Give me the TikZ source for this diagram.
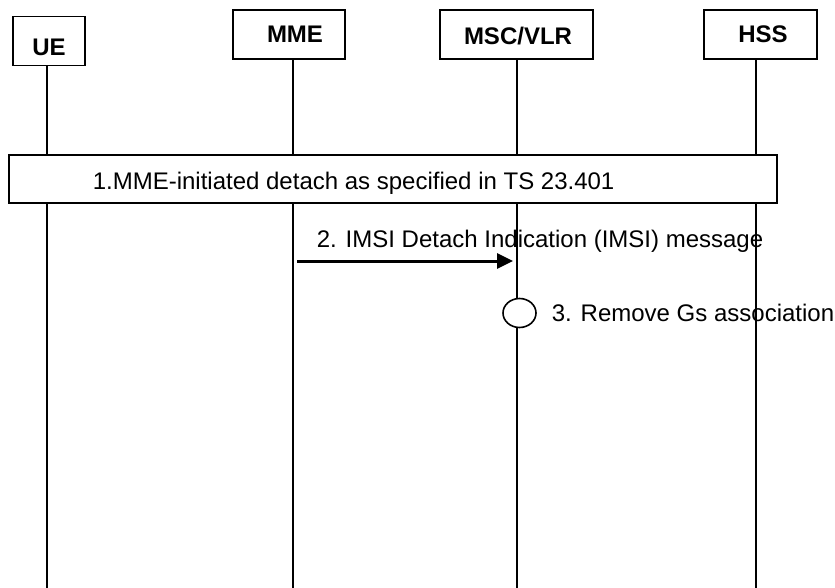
\documentclass[tikz,border=0pt]{standalone}
\usepackage{fontspec}
\setmainfont{Liberation Sans}
\usetikzlibrary{positioning,arrows.meta,shapes.geometric}

\begin{document}
\begin{tikzpicture}[x=1pt,y=-1pt,>={Triangle[length=16pt,width=15pt]},line width=1.6pt]
  \tikzstyle{entity}=[draw=black,line width=1.6pt,minimum height=49pt,inner sep=0pt,font=\fontsize{24}{29}\selectfont\bfseries]
  \tikzstyle{msg}=[inner sep=0pt,font=\fontsize{24}{29}\selectfont]
  \tikzstyle{lifeline}=[draw=black,line width=1.6pt]
  \useasboundingbox (0,0) rectangle (835,588);

  % Entities
  \node[entity,minimum width=72pt] (UE) at (49,41) {\raisebox{-15pt}[0pt][0pt]{UE}};
  \node[entity,minimum width=112pt] (MME) at (289,34.5) {\raisebox{-8.5pt}[0pt][0pt]{\hspace{12pt}MME}};
  \node[entity,minimum width=153pt] (MSC) at (516.5,34.5) {\raisebox{-10pt}[0pt][0pt]{\hspace{3pt}MSC/VLR}};
  \node[entity,minimum width=113pt] (HSS) at (760.5,34.5) {\raisebox{-8.5pt}[0pt][0pt]{\hspace{5pt}HSS}};

  % Lifeline ends
  \coordinate (UEend) at (47,588);
  \coordinate (MMEend) at (293,588);
  \coordinate (MSCend) at (517,588);
  \coordinate (HSSend) at (756,588);

  % Texts
  \node[msg,anchor=base west] (t2) at (316,247.5) {2. IMSI Detach Indication (IMSI) message};
  \node[msg,anchor=base west] (t3) at (551,321) {3. Remove Gs association};

  % Lifelines
  \path[lifeline]
    (UE.south -| UEend) -- (UEend)
    (MME.south -| MMEend) -- (MMEend)
    (MSC.south -| MSCend) -- (MSCend)
    (HSS.south -| HSSend) -- (HSSend);

  % Steps
  \node[draw=black,fill=white,line width=1.6pt,minimum width=768pt,minimum height=48pt] (detach) at (393,179) {};
  \node[msg,anchor=base west] (t1) at (92,190) {1.MME-initiated detach as specified in TS 23.401};

  \coordinate (a2) at (293,261);
  \coordinate (b2) at (517,261);
  \draw[->,line width=3pt,shorten <=4pt,shorten >=4pt] (a2) -- (b2);

  \node[ellipse,draw=black,fill=white,line width=1.6pt,minimum width=33pt,minimum height=29pt,inner sep=0pt] (gs) at (519.5,313) {};
\end{tikzpicture}
\end{document}
